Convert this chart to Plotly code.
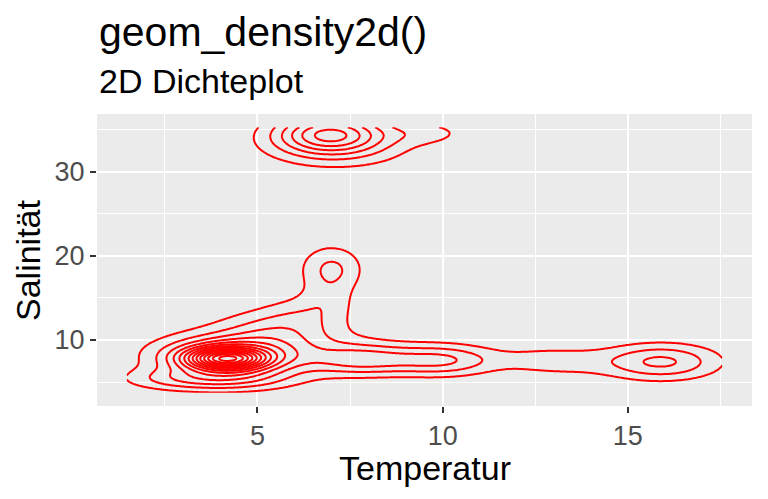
import numpy as np
import plotly.graph_objects as go

# density clusters (temperature, salinity, spread, weight)
clu_temp   = [4.15, 4.3, 5.0, 2.4, 4.0, 5.6, 6.3, 6.9, 7.0, 7.8, 10.0, 12.5, 13.5, 15.9, 6.95, 7.2, 9.6]
clu_sal    = [7.75, 8.0, 9.0, 5.4, 5.3, 11.0, 13.5, 14.8, 18.4, 7.7, 7.6, 7.6, 7.4, 7.4, 34.5, 32.8, 34.6]
clu_sd_t   = [0.7, 1.2, 2.2, 0.9, 1.3, 1.1, 0.8, 0.5, 0.6, 1.0, 1.0, 0.9, 0.9, 1.1, 1.0, 1.5, 0.8]
clu_sd_s   = [0.85, 1.5, 2.5, 0.9, 1.0, 1.8, 1.5, 1.5, 2.0, 1.3, 1.3, 1.2, 1.3, 1.5, 1.6, 2.0, 1.0]
clu_weight = [8, 5.5, 1.0, 0.8, 2.5, 2.0, 0.9, 0.8, 2.2, 3.0, 3.0, 0.9, 0.8, 3.2, 5.5, 1.4, 1.1]

# data range of the observations (grid limits, like kde2d lims)
temp_lim = [1.47, 17.55]
sal_lim = [3.73, 35.28]

x_ticks = [5, 10, 15]
y_ticks = [10, 20, 30]

gx = np.linspace(temp_lim[0], temp_lim[1], 300)
gy = np.linspace(sal_lim[0], sal_lim[1], 300)
X, Y = np.meshgrid(gx, gy)
Z = np.zeros_like(X)
for mt, ms, st, ss, w in zip(clu_temp, clu_sal, clu_sd_t, clu_sd_s, clu_weight):
    Z += w*np.exp(-0.5*(((X-mt)/st)**2+((Y-ms)/ss)**2))

fig = go.Figure()
fig.add_trace(go.Contour(x=gx, y=gy, z=Z, autocontour=False,
                         contours=dict(start=1, end=17, size=1, coloring='lines'),
                         colorscale=[[0, '#FF0000'], [1, '#FF0000']], showscale=False,
                         line=dict(width=2, smoothing=1), hoverinfo='skip'))

font = "Liberation Sans, Arial, sans-serif"
xr = (temp_lim[1]-temp_lim[0])*0.05
yr = (sal_lim[1]-sal_lim[0])*0.05
fig.update_xaxes(range=[temp_lim[0]-xr, temp_lim[1]+xr], tickvals=x_ticks, ticks='outside', ticklen=6,
                 tickwidth=1.5, tickcolor='#333333', tickfont=dict(size=27, color='#4D4D4D'),
                 showgrid=True, gridcolor='white', gridwidth=2, zeroline=False, showline=False,
                 minor=dict(tickvals=[2.5, 7.5, 12.5, 17.5], showgrid=True, gridcolor='white', gridwidth=1),
                 automargin=False)
fig.update_yaxes(range=[sal_lim[0]-yr, sal_lim[1]+yr], tickvals=y_ticks, ticks='outside', ticklen=6,
                 tickwidth=1.5, tickcolor='#333333', tickfont=dict(size=27, color='#4D4D4D'),
                 showgrid=True, gridcolor='white', gridwidth=2, zeroline=False, showline=False,
                 minor=dict(tickvals=[5, 15, 25, 35], showgrid=True, gridcolor='white', gridwidth=1),
                 automargin=False)

# page body adds 8px, so the figure is 8px smaller and margins shifted
ph, pw = 292, 655
fig.update_layout(width=760, height=491, margin=dict(l=89, r=16, t=106, b=93),
                  plot_bgcolor='#EBEBEB', paper_bgcolor='white', font=dict(family=font),
                  showlegend=False,
                  annotations=[
                      dict(text='geom_density2d()', x=0, y=1+(114-32)/ph, xref='paper', yref='paper',
                           xanchor='left', yanchor='middle', showarrow=False, font=dict(size=41, color='black')),
                      dict(text='2D Dichteplot', x=0, y=1+(114-81)/ph, xref='paper', yref='paper',
                           xanchor='left', yanchor='middle', showarrow=False, font=dict(size=34, color='black')),
                      dict(text='Temperatur', x=0.5, y=-(468-406)/ph, xref='paper', yref='paper',
                           xanchor='center', yanchor='middle', showarrow=False, font=dict(size=34, color='black')),
                      dict(text='Salinität', x=-(97-28)/pw, y=0.5, xref='paper', yref='paper', textangle=-90,
                           xanchor='center', yanchor='middle', showarrow=False, font=dict(size=34, color='black')),
                  ])

fig.write_html("out.html")
